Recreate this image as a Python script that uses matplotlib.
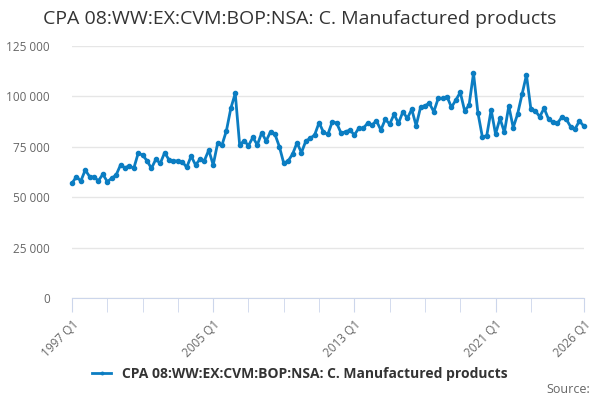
import numpy as np
import matplotlib
matplotlib.use("Agg")
import matplotlib.pyplot as plt
from matplotlib.ticker import FuncFormatter

plt.rcParams['font.family'] = ['Open Sans', 'DejaVu Sans']

# quarterly values, 1997 Q1 .. 2026 Q1 (thousands)
valores = [
    56.9, 60.2, 58.0, 63.5, 60.2, 59.9, 58.2, 61.4, 57.7, 59.4,
    61.0, 66.0, 64.6, 65.6, 64.3, 71.8, 70.9, 68.1, 64.3, 68.8,
    66.8, 72.1, 68.5, 68.0, 68.0, 67.6, 64.8, 70.4, 66.0, 68.8,
    68.1, 73.4, 66.0, 76.7, 75.9, 83.0, 94.1, 101.5, 75.9, 78.0,
    75.6, 79.7, 75.9, 82.0, 77.9, 82.5, 81.2, 75.1, 66.8, 68.0,
    71.4, 77.0, 72.1, 77.9, 79.2, 80.9, 87.0, 82.2, 81.2, 87.5,
    86.7, 81.7, 82.5, 83.3, 80.9, 84.2, 84.2, 86.7, 85.8, 87.9,
    83.3, 88.6, 86.3, 91.1, 86.7, 92.4, 89.1, 93.6, 85.5, 94.6,
    95.4, 96.6, 92.4, 99.0, 99.0, 99.9, 94.6, 98.2, 102.0, 92.8,
    95.7, 111.5, 91.9, 80.0, 80.5, 93.3, 81.3, 89.1, 82.2, 95.2,
    84.5, 91.3, 101.0, 110.6, 93.8, 92.9, 89.9, 94.1, 88.8, 87.2,
    86.7, 89.6, 88.8, 85.0, 83.8, 87.8, 85.3,
]
valores = np.array(valores) * 1000
trimestres = [f"{1997 + i // 4} Q{i % 4 + 1}" for i in range(len(valores))]
x = np.arange(len(valores))

etiquetas = ["1997 Q1", "2005 Q1", "2013 Q1", "2021 Q1", "2026 Q1"]
marcas = [trimestres.index(e) for e in etiquetas]
menores = [trimestres.index(f"{a} Q1") for a in range(1997, 2024, 2)]

titulo = "CPA 08:WW:EX:CVM:BOP:NSA: C. Manufactured products"
azul = "#0b7dc2"

fig = plt.figure(figsize=(6, 4), dpi=100)
ax = fig.add_axes([0.12, 0.255, 0.853, 0.63])

ax.plot(x, valores, color=azul, linewidth=2, marker='o', markersize=3,
        label=titulo, clip_on=False)

ax.set_ylim(0, 125000)
ax.set_xlim(0, len(valores) - 1)
ax.set_yticks(np.arange(0, 125001, 25000))
ax.yaxis.set_major_formatter(FuncFormatter(lambda v, p: f"{int(v):,}".replace(",", " ")))
ax.grid(axis='y', color='#e6e6e6', linewidth=1)
ax.set_axisbelow(True)

ax.set_xticks(marcas)
ax.set_xticklabels(etiquetas, rotation=45, ha='right', rotation_mode='anchor')
ax.set_xticks(menores, minor=True)
ax.tick_params(axis='x', which='both', length=10, color='#ccd6eb', labelsize=8.5,
               labelcolor='#666666', pad=4)
ax.tick_params(axis='y', length=0, labelsize=8.5, labelcolor='#666666', pad=16)

for lado in ['top', 'right', 'left']:
    ax.spines[lado].set_visible(False)
ax.spines['bottom'].set_color('#ccd6eb')

fig.text(0.5, 0.953, titulo, ha='center', va='center', fontsize=14, color='#333333')

ley = fig.legend(loc='center', bbox_to_anchor=(0.5, 0.065), frameon=False,
                 prop={'weight': 'bold', 'size': 10}, handlelength=1.4,
                 markerscale=0.6)
for t in ley.get_texts():
    t.set_color('#333333')

fig.text(0.983, 0.027, "Source:", ha='right', va='center', fontsize=9, color='#666666')

fig.savefig("out.png", dpi=100)
